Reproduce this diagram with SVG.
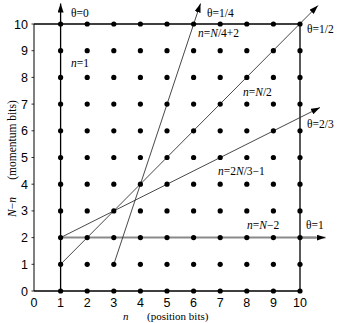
<svg xmlns="http://www.w3.org/2000/svg" width="338" height="323" viewBox="0 0 338 323">
<defs>
<marker id="ah" markerWidth="10" markerHeight="6" refX="9" refY="3" orient="auto" markerUnits="userSpaceOnUse">
<path d="M0,0 L9,3 L0,6 Z" fill="#000"/>
</marker>
<style>
.num{font-family:"Liberation Sans",Arial,sans-serif;font-size:12.5px;fill:#000}
.lbl{font-family:"Liberation Serif","Times New Roman",serif;font-size:11.5px;fill:#000}
.ax{font-size:11px}
.it{font-style:italic}
.frame{stroke:#000;stroke-width:1.3;fill:none}
.diag{stroke:#333;stroke-width:0.9;fill:none}
.gray{stroke:#8a8a8a;stroke-width:2;fill:none}
.dot{fill:#000}
</style>
</defs>
<rect width="338" height="323" fill="#fff"/>
<g id="frame">
<path class="frame" d="M34,24 H300 V291 H34"/>
<path d="M34,24 V291" stroke="#000" stroke-width="1"/>
<path stroke="#000" stroke-width="0.8" d="M31.5,24H34M31.5,50.7H34M31.5,77.4H34M31.5,104.1H34M31.5,130.8H34M31.5,157.5H34M31.5,184.2H34M31.5,210.9H34M31.5,237.6H34M31.5,264.3H34M31.5,291H34"/>
</g>
<g id="connectors">
<line class="gray" x1="60.6" y1="237.6" x2="316" y2="237.6"/>
<line x1="60.6" y1="291" x2="60.6" y2="3.5" stroke="#000" stroke-width="1.3" marker-end="url(#ah)"/>
<line class="diag" x1="113.8" y1="264.3" x2="200.5" y2="3.5" marker-end="url(#ah)"/>
<line class="diag" x1="60.6" y1="264.3" x2="318" y2="5.5" marker-end="url(#ah)"/>
<line class="diag" x1="60.6" y1="237.6" x2="320" y2="107.5" marker-end="url(#ah)"/>
<line x1="300" y1="237.6" x2="325.5" y2="237.6" stroke="#8a8a8a" stroke-width="2" marker-end="url(#ah)"/>
</g>
<g id="dots" class="dot">
<g id="col1"><circle cx="60.6" cy="24" r="2.6"/><circle cx="60.6" cy="50.7" r="2.6"/><circle cx="60.6" cy="77.4" r="2.6"/><circle cx="60.6" cy="104.1" r="2.6"/><circle cx="60.6" cy="130.8" r="2.6"/><circle cx="60.6" cy="157.5" r="2.6"/><circle cx="60.6" cy="184.2" r="2.6"/><circle cx="60.6" cy="210.9" r="2.6"/><circle cx="60.6" cy="237.6" r="2.6"/><circle cx="60.6" cy="264.3" r="2.6"/><circle cx="60.6" cy="291" r="2.6"/></g>
<g id="col2"><circle cx="87.2" cy="24" r="2.6"/><circle cx="87.2" cy="50.7" r="2.6"/><circle cx="87.2" cy="77.4" r="2.6"/><circle cx="87.2" cy="104.1" r="2.6"/><circle cx="87.2" cy="130.8" r="2.6"/><circle cx="87.2" cy="157.5" r="2.6"/><circle cx="87.2" cy="184.2" r="2.6"/><circle cx="87.2" cy="210.9" r="2.6"/><circle cx="87.2" cy="237.6" r="2.6"/><circle cx="87.2" cy="264.3" r="2.6"/><circle cx="87.2" cy="291" r="2.6"/></g>
<g id="col3"><circle cx="113.8" cy="24" r="2.6"/><circle cx="113.8" cy="50.7" r="2.6"/><circle cx="113.8" cy="77.4" r="2.6"/><circle cx="113.8" cy="104.1" r="2.6"/><circle cx="113.8" cy="130.8" r="2.6"/><circle cx="113.8" cy="157.5" r="2.6"/><circle cx="113.8" cy="184.2" r="2.6"/><circle cx="113.8" cy="210.9" r="2.6"/><circle cx="113.8" cy="237.6" r="2.6"/><circle cx="113.8" cy="264.3" r="2.6"/><circle cx="113.8" cy="291" r="2.6"/></g>
<g id="col4"><circle cx="140.4" cy="24" r="2.6"/><circle cx="140.4" cy="50.7" r="2.6"/><circle cx="140.4" cy="77.4" r="2.6"/><circle cx="140.4" cy="104.1" r="2.6"/><circle cx="140.4" cy="130.8" r="2.6"/><circle cx="140.4" cy="157.5" r="2.6"/><circle cx="140.4" cy="184.2" r="2.6"/><circle cx="140.4" cy="210.9" r="2.6"/><circle cx="140.4" cy="237.6" r="2.6"/><circle cx="140.4" cy="264.3" r="2.6"/><circle cx="140.4" cy="291" r="2.6"/></g>
<g id="col5"><circle cx="167" cy="24" r="2.6"/><circle cx="167" cy="50.7" r="2.6"/><circle cx="167" cy="77.4" r="2.6"/><circle cx="167" cy="104.1" r="2.6"/><circle cx="167" cy="130.8" r="2.6"/><circle cx="167" cy="157.5" r="2.6"/><circle cx="167" cy="184.2" r="2.6"/><circle cx="167" cy="210.9" r="2.6"/><circle cx="167" cy="237.6" r="2.6"/><circle cx="167" cy="264.3" r="2.6"/><circle cx="167" cy="291" r="2.6"/></g>
<g id="col6"><circle cx="193.6" cy="24" r="2.6"/><circle cx="193.6" cy="50.7" r="2.6"/><circle cx="193.6" cy="77.4" r="2.6"/><circle cx="193.6" cy="104.1" r="2.6"/><circle cx="193.6" cy="130.8" r="2.6"/><circle cx="193.6" cy="157.5" r="2.6"/><circle cx="193.6" cy="184.2" r="2.6"/><circle cx="193.6" cy="210.9" r="2.6"/><circle cx="193.6" cy="237.6" r="2.6"/><circle cx="193.6" cy="264.3" r="2.6"/><circle cx="193.6" cy="291" r="2.6"/></g>
<g id="col7"><circle cx="220.2" cy="24" r="2.6"/><circle cx="220.2" cy="50.7" r="2.6"/><circle cx="220.2" cy="77.4" r="2.6"/><circle cx="220.2" cy="104.1" r="2.6"/><circle cx="220.2" cy="130.8" r="2.6"/><circle cx="220.2" cy="157.5" r="2.6"/><circle cx="220.2" cy="184.2" r="2.6"/><circle cx="220.2" cy="210.9" r="2.6"/><circle cx="220.2" cy="237.6" r="2.6"/><circle cx="220.2" cy="264.3" r="2.6"/><circle cx="220.2" cy="291" r="2.6"/></g>
<g id="col8"><circle cx="246.8" cy="24" r="2.6"/><circle cx="246.8" cy="50.7" r="2.6"/><circle cx="246.8" cy="77.4" r="2.6"/><circle cx="246.8" cy="104.1" r="2.6"/><circle cx="246.8" cy="130.8" r="2.6"/><circle cx="246.8" cy="157.5" r="2.6"/><circle cx="246.8" cy="184.2" r="2.6"/><circle cx="246.8" cy="210.9" r="2.6"/><circle cx="246.8" cy="237.6" r="2.6"/><circle cx="246.8" cy="264.3" r="2.6"/><circle cx="246.8" cy="291" r="2.6"/></g>
<g id="col9"><circle cx="273.4" cy="24" r="2.6"/><circle cx="273.4" cy="50.7" r="2.6"/><circle cx="273.4" cy="77.4" r="2.6"/><circle cx="273.4" cy="104.1" r="2.6"/><circle cx="273.4" cy="130.8" r="2.6"/><circle cx="273.4" cy="157.5" r="2.6"/><circle cx="273.4" cy="184.2" r="2.6"/><circle cx="273.4" cy="210.9" r="2.6"/><circle cx="273.4" cy="237.6" r="2.6"/><circle cx="273.4" cy="264.3" r="2.6"/><circle cx="273.4" cy="291" r="2.6"/></g>
<g id="col10"><circle cx="300" cy="24" r="2.6"/><circle cx="300" cy="50.7" r="2.6"/><circle cx="300" cy="77.4" r="2.6"/><circle cx="300" cy="104.1" r="2.6"/><circle cx="300" cy="130.8" r="2.6"/><circle cx="300" cy="157.5" r="2.6"/><circle cx="300" cy="184.2" r="2.6"/><circle cx="300" cy="210.9" r="2.6"/><circle cx="300" cy="237.6" r="2.6"/><circle cx="300" cy="264.3" r="2.6"/><circle cx="300" cy="291" r="2.6"/></g>
</g>
<g id="xticks" class="num" text-anchor="middle">
<text x="34" y="306.5">0</text><text x="60.6" y="306.5">1</text><text x="87.2" y="306.5">2</text><text x="113.8" y="306.5">3</text><text x="140.4" y="306.5">4</text><text x="167" y="306.5">5</text><text x="193.6" y="306.5">6</text><text x="220.2" y="306.5">7</text><text x="246.8" y="306.5">8</text><text x="273.4" y="306.5">9</text><text x="300" y="306.5">10</text>
</g>
<g id="yticks" class="num" text-anchor="end">
<text x="28" y="28.5">10</text><text x="28" y="55.2">9</text><text x="28" y="81.9">8</text><text x="28" y="108.6">7</text><text x="28" y="135.3">6</text><text x="28" y="162">5</text><text x="28" y="188.7">4</text><text x="28" y="215.4">3</text><text x="28" y="242.1">2</text><text x="28" y="268.8">1</text><text x="28" y="295.5">0</text>
</g>
<g id="axis-titles" class="lbl">
<text x="123" y="319.5" class="it ax">n</text>
<text x="147" y="319.5" class="ax">(position bits)</text>
<text transform="translate(16,207) rotate(-90)" text-anchor="middle"><tspan class="it">N</tspan>−<tspan class="it">n</tspan></text>
<text transform="translate(16,140) rotate(-90)" text-anchor="middle">(momentum bits)</text>
</g>
<g id="line-labels" class="lbl">
<text x="71" y="17">θ=0</text>
<text x="71" y="67"><tspan class="it">n</tspan>=1</text>
<text x="207" y="17">θ=1/4</text>
<text x="198" y="37"><tspan class="it">n</tspan>=<tspan class="it">N</tspan>/4+2</text>
<text x="307" y="33">θ=1/2</text>
<text x="243" y="96"><tspan class="it">n</tspan>=<tspan class="it">N</tspan>/2</text>
<text x="307" y="128">θ=2/3</text>
<text x="218" y="175"><tspan class="it">n</tspan>=2<tspan class="it">N</tspan>/3−1</text>
<text x="247" y="229"><tspan class="it">n</tspan>=<tspan class="it">N</tspan>−2</text>
<text x="306" y="229">θ=1</text>
</g>
</svg>
